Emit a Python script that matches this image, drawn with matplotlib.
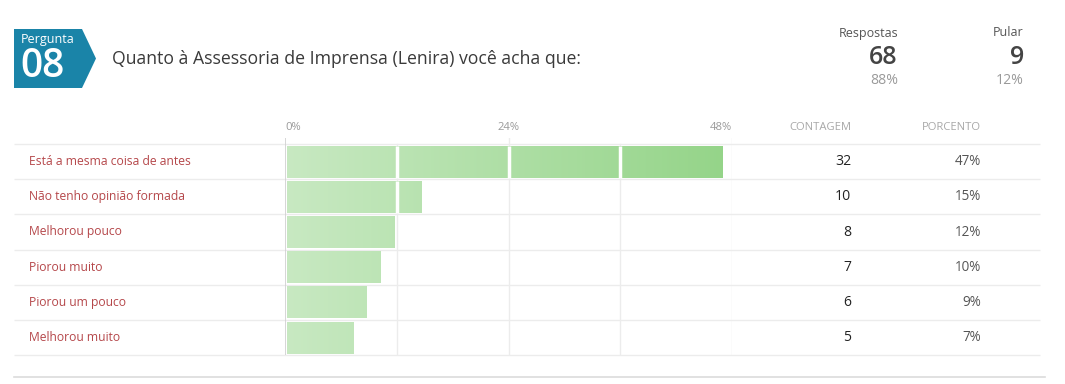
import matplotlib
matplotlib.use("Agg")
import matplotlib.pyplot as plt
import numpy as np
from matplotlib.colors import LinearSegmentedColormap
from matplotlib.patches import Polygon

plt.rcParams['font.family'] = ['Open Sans', 'DejaVu Sans']

# ---- data ----
question_number = "08"
question_text = "Quanto à Assessoria de Imprensa (Lenira) você acha que:"
answered = 68
answered_pct = "88%"
skipped = 9
skipped_pct = "12%"
categories = ["Está a mesma coisa de antes", "Não tenho opinião formada", "Melhorou pouco",
              "Piorou muito", "Piorou um pouco", "Melhorou muito"]
counts = [32, 10, 8, 7, 6, 5]
percent_labels = ["47%", "15%", "12%", "10%", "9%", "7%"]
axis_ticks = [0, 24, 48]
grid_ticks = [0, 12, 24, 36, 48]

percents = [c / answered * 100 for c in counts]

W, H = 1065, 384
fig = plt.figure(figsize=(W / 100, H / 100), dpi=100)
fig.patch.set_facecolor('white')

# overlay axes in pixel coordinates
ov = fig.add_axes([0, 0, 1, 1])
ov.set_xlim(0, W)
ov.set_ylim(H, 0)
ov.axis('off')
ov.set_zorder(0)

px = 0.72  # px -> pt

# question badge
badge = Polygon([(14, 29), (82, 29), (96, 58.5), (82, 88), (14, 88)], closed=True,
                facecolor='#1a84a8', edgecolor='none')
ov.add_patch(badge)
ov.text(21, 39, "Pergunta", color='white', fontsize=12.5 * px, va='center', ha='left')
ov.text(20, 67, question_number, color='white', fontsize=39 * px, va='center', ha='left',
        fontweight='semibold')
ov.text(112, 59, question_text, color='#3a3a3a', fontsize=17.6 * px, va='center', ha='left',
        fontweight='medium')

# summary stats
for xr, lab, val, pct in [(898, "Respostas", answered, answered_pct), (1024, "Pular", skipped, skipped_pct)]:
    ov.text(xr, 33, lab, color='#555555', fontsize=12.5 * px, ha='right', va='center')
    ov.text(xr, 57, str(val), color='#444444', fontsize=25 * px, ha='right', va='center', fontweight='semibold')
    ov.text(xr, 81, pct, color='#9a9a9a', fontsize=14 * px, ha='right', va='center')

# table layout
row_top = 144
row_h = 35.2
n = len(categories)
x0_px, x48_px = 285, 732

# header
ov.text(851, 127, "CONTAGEM", color='#a8a8a8', fontsize=11.3 * px, ha='right', va='center')
ov.text(981, 127, "PORCENTO", color='#a8a8a8', fontsize=11.3 * px, ha='right', va='center')

# separators
for i in range(n + 1):
    y = row_top + i * row_h
    ov.plot([14, 1040], [y, y], color='#ececec', lw=1, solid_capstyle='butt')
ov.plot([14, 1045], [377, 377], color='#dcdcdc', lw=1.2)

for i, (cat, c, p) in enumerate(zip(categories, counts, percent_labels)):
    yc = row_top + (i + 0.5) * row_h
    ov.text(29, yc, cat, color='#b5474a', fontsize=12.1 * px, ha='left', va='center')
    ov.text(851, yc, str(c), color='#222222', fontsize=14 * px, ha='right', va='center')
    ov.text(981, yc, p, color='#555555', fontsize=13.5 * px, ha='right', va='center')

# bar axes
ax_top_px = 138
ax_bot_px = row_top + n * row_h
ax = fig.add_axes([x0_px / W, 1 - ax_bot_px / H, (x48_px - x0_px) / W, (ax_bot_px - ax_top_px) / H])
ax.set_zorder(1)
ax.patch.set_alpha(0)
ax.set_xlim(0, 48)
top_lim = -0.5 - (row_top - ax_top_px) / row_h
ax.set_ylim(n - 0.5, top_lim)
for s in ax.spines.values():
    s.set_visible(False)
ax.set_xticks([])
ax.set_yticks([])

# gridlines
for g in grid_ticks:
    ymax_frac = 1 if g in axis_ticks else n / (n - 0.5 - top_lim)
    ax.axvline(g, ymin=0, ymax=ymax_frac, color='#d0d0d0' if g == 0 else '#ececec',
               lw=1.2 if g == 0 else 1, zorder=0)

# tick labels
for t in axis_ticks:
    ha = 'left' if t == axis_ticks[0] else ('right' if t == axis_ticks[-1] else 'center')
    ov.text(x0_px + (x48_px - x0_px) * t / 48, 127, f"{t}%", color='#9a9a9a', fontsize=11.3 * px,
            ha=ha, va='center')

cmap = LinearSegmentedColormap.from_list('g', ['#c8e9c2', '#94d488'])
grad = np.linspace(0, 1, 256).reshape(1, -1)
bar_h = 32 / row_h
y_pos = np.arange(n)
bars = ax.barh(y_pos, [p - 0.25 for p in percents], left=0.25, height=bar_h, color='none', zorder=1)
for b in bars:
    im = ax.imshow(grad, cmap=cmap, aspect='auto', extent=[0, 48, n - 0.5, top_lim], zorder=1,
                   interpolation='bilinear')
    im.set_clip_path(b)
# white separators on bars at grid lines
for yv, p in zip(y_pos, percents):
    for g in grid_ticks[1:]:
        if g < p:
            ax.plot([g, g], [yv - bar_h / 2, yv + bar_h / 2], color='white', lw=2.5, zorder=2,
                    solid_capstyle='butt')

fig.savefig("out.png", dpi=100, facecolor='white')
